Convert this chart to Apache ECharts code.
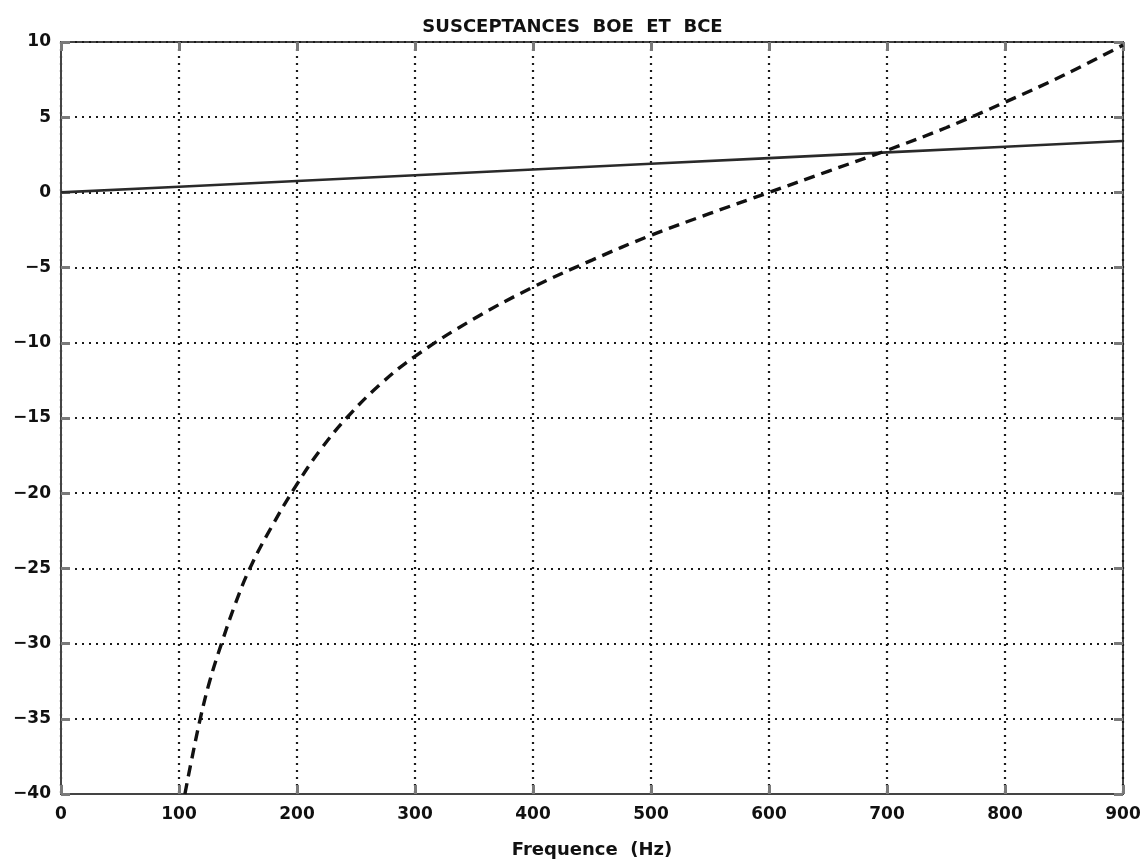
<!DOCTYPE html>
<html>
<head>
<meta charset="utf-8">
<title>Susceptances BOE et BCE</title>
<script src="https://cdn.jsdelivr.net/npm/echarts@6/dist/echarts.min.js"></script>
<style>
  html, body { margin: 0; padding: 0; background: #fff; }
  #chart { width: 1145px; height: 864px; }
</style>
</head>
<body>
<div id="chart"></div>
<script>
// Frequency axis ticks (Hz) and susceptance range
const xTicks = [0, 100, 200, 300, 400, 500, 600, 700, 800, 900];
const yTicks = [10, 5, 0, -5, -10, -15, -20, -25, -30, -35, -40];

// BOE: straight line through the origin
const boeFreq = [0, 100, 200, 300, 400, 500, 600, 700, 800, 900];
const boeVal  = [0, 0.38, 0.76, 1.14, 1.52, 1.90, 2.28, 2.66, 3.04, 3.42];

// BCE: dashed curve rising from -40 through zero near 600 Hz
const bceFreq = [105, 110, 118, 126, 136, 148, 160, 178, 200, 220, 242, 270, 300,
                 350, 400, 450, 500, 550, 600, 650, 700, 750, 800, 850, 900];
const bceVal  = [-40, -38.0, -35.0, -32.5, -30.0, -27.3, -25.0, -22.3, -19.4, -17.1, -15.0, -12.8, -10.9,
                 -8.4, -6.3, -4.5, -2.85, -1.4, 0, 1.4, 2.8, 4.3, 6.0, 7.8, 9.8];

const pairs = (xs, ys) => xs.map((x, i) => [x, ys[i]]);

const font = '"DejaVu Sans", sans-serif';
const chart = echarts.init(document.getElementById('chart'), null, { renderer: 'canvas' });

const gridDots = { show: true, lineStyle: { color: '#1a1a1a', width: 2.2, type: [2, 5] } };
const innerTick = { show: true, inside: true, length: 9, lineStyle: { color: '#7a7a7a', width: 3 } };
const labelStyle = { fontFamily: font, fontWeight: 'bold', fontSize: 17, color: '#111' };
// typographic minus sign on negative tick values
const fmt = v => String(v).replace('-', '\u2212');

chart.setOption({
  animation: false,
  backgroundColor: '#fff',
  title: {
    text: 'SUSCEPTANCES  BOE  ET  BCE',
    left: 'center',
    top: 13,
    textStyle: { fontFamily: font, fontWeight: 'bold', fontSize: 18, color: '#111' }
  },
  grid: {
    left: 61, right: 22, top: 42, bottom: 69,
    show: true, borderColor: '#444', borderWidth: 2, backgroundColor: 'transparent'
  },
  xAxis: [{
    type: 'value', min: xTicks[0], max: xTicks[xTicks.length - 1], interval: 100,
    position: 'bottom',
    name: 'Frequence  (Hz)', nameLocation: 'middle', nameGap: 47,
    nameTextStyle: { fontFamily: font, fontWeight: 'bold', fontSize: 18, color: '#111' },
    axisLine: { show: true, onZero: false, lineStyle: { color: '#444', width: 2 } },
    axisTick: innerTick,
    axisLabel: Object.assign({ margin: 12, formatter: fmt }, labelStyle),
    splitLine: gridDots
  }, {
    type: 'value', min: xTicks[0], max: xTicks[xTicks.length - 1], interval: 100,
    position: 'top',
    axisLine: { show: false, onZero: false },
    axisTick: innerTick,
    axisLabel: { show: false },
    splitLine: { show: false }
  }],
  yAxis: [{
    type: 'value', min: yTicks[yTicks.length - 1], max: yTicks[0], interval: 5,
    position: 'left',
    axisLine: { show: true, onZero: false, lineStyle: { color: '#444', width: 2 } },
    axisTick: innerTick,
    axisLabel: Object.assign({ margin: 10, formatter: fmt }, labelStyle),
    splitLine: gridDots
  }, {
    type: 'value', min: yTicks[yTicks.length - 1], max: yTicks[0], interval: 5,
    position: 'right',
    axisLine: { show: false, onZero: false },
    axisTick: innerTick,
    axisLabel: { show: false },
    splitLine: { show: false }
  }],
  series: [{
    name: 'BOE',
    type: 'line',
    data: pairs(boeFreq, boeVal),
    showSymbol: false,
    lineStyle: { color: '#2a2a2a', width: 2.6, type: 'solid' },
    z: 3
  }, {
    name: 'BCE',
    type: 'line',
    data: pairs(bceFreq, bceVal),
    smooth: 0.4,
    showSymbol: false,
    lineStyle: { color: '#111', width: 3.4, type: [11, 7] },
    z: 4
  }]
});
</script>
</body>
</html>
